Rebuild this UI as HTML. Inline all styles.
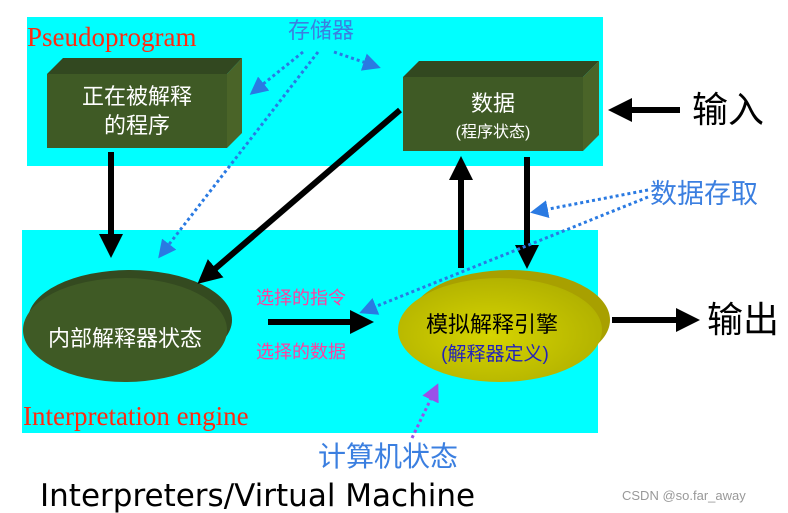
<!DOCTYPE html>
<html><head><meta charset="utf-8"><style>
body{margin:0;background:#fff}
svg{display:block}
.cj{font-family:"Liberation Sans","Noto Sans CJK SC",sans-serif}
</style></head><body>
<svg width="788" height="513" viewBox="0 0 788 513" xmlns="http://www.w3.org/2000/svg">
<defs>
<marker id="ah" markerWidth="4" markerHeight="4" refX="3" refY="2" orient="auto" markerUnits="strokeWidth"><path d="M0,0 L4,2 L0,4 z" fill="#000"/></marker>
<marker id="bh" markerWidth="6" markerHeight="6" refX="5" refY="3" orient="auto" markerUnits="strokeWidth"><path d="M0,0 L6,3 L0,6 z" fill="#2a7ae2"/></marker>
<marker id="ph" markerWidth="6" markerHeight="6" refX="5" refY="3" orient="auto" markerUnits="strokeWidth"><path d="M0,0 L6,3 L0,6 z" fill="#9a50e8"/></marker>
<radialGradient id="yg" cx="0.45" cy="0.55" r="0.6"><stop offset="0" stop-color="#d6d400"/><stop offset="1" stop-color="#b0b000"/></radialGradient>
</defs>
<rect x="27" y="17" width="576" height="149" fill="#00ffff"/>
<rect x="22" y="230" width="576" height="203" fill="#00ffff"/>
<text x="27" y="46" font-family="Liberation Serif,serif" font-size="27" fill="#ff2a10">Pseudoprogram</text>
<text x="23" y="425" font-family="Liberation Serif,serif" font-size="27" fill="#ff2a10">Interpretation engine</text>

<!-- box1 -->
<polygon points="47,74 63,58 242,58 227,74" fill="#324820"/>
<polygon points="227,74 242,58 242,133 227,148" fill="#4a6428"/>
<rect x="47" y="74" width="180" height="74" fill="#3f5a25"/>
<text x="137" y="104" text-anchor="middle" class="cj" font-size="22" fill="#fff">正在被解释</text>
<text x="137" y="133" text-anchor="middle" class="cj" font-size="22" fill="#fff">的程序</text>
<!-- box2 -->
<polygon points="403,77 419,61 599,61 583,77" fill="#324820"/>
<polygon points="583,77 599,61 599,135 583,151" fill="#4a6428"/>
<rect x="403" y="77" width="180" height="74" fill="#3f5a25"/>
<text x="493" y="111" text-anchor="middle" class="cj" font-size="22" fill="#fff">数据</text>
<text x="493" y="137" text-anchor="middle" class="cj" font-size="16" fill="#fff">(程序状态)</text>

<!-- ellipses -->
<ellipse cx="130" cy="320" rx="102" ry="50" fill="#344a20"/>
<ellipse cx="125" cy="330" rx="102" ry="52" fill="#3f5a25"/>
<text x="125" y="346" text-anchor="middle" class="cj" font-size="22" fill="#fff">内部解释器状态</text>
<ellipse cx="510" cy="320" rx="100" ry="50" fill="#a8a000"/>
<ellipse cx="500" cy="330" rx="102" ry="52" fill="url(#yg)"/>
<text x="492" y="332" text-anchor="middle" class="cj" font-size="22" fill="#000">模拟解释引擎</text>
<text x="495" y="360" text-anchor="middle" class="cj" font-size="19" fill="#2222bb">(解释器定义)</text>

<!-- black arrows -->
<g stroke="#000" stroke-width="6" fill="none">
<line x1="111" y1="152" x2="111" y2="252" marker-end="url(#ah)"/>
<line x1="400" y1="110" x2="202" y2="280" marker-end="url(#ah)"/>
<line x1="461" y1="268" x2="461" y2="162" marker-end="url(#ah)"/>
<line x1="527" y1="157" x2="527" y2="263" marker-end="url(#ah)"/>
<line x1="680" y1="110" x2="614" y2="110" marker-end="url(#ah)"/>
<line x1="268" y1="322" x2="368" y2="322" marker-end="url(#ah)"/>
<line x1="612" y1="320" x2="694" y2="320" marker-end="url(#ah)"/>
</g>

<!-- dotted -->
<g stroke="#2a7ae2" stroke-width="3" stroke-dasharray="3,3" fill="none">
<line x1="303" y1="52" x2="252" y2="93" marker-end="url(#bh)"/>
<line x1="318" y1="52" x2="160" y2="256" marker-end="url(#bh)"/>
<line x1="334" y1="52" x2="378" y2="67" marker-end="url(#bh)"/>
<line x1="648" y1="190" x2="533" y2="212" marker-end="url(#bh)"/>
<line x1="648" y1="197" x2="362" y2="312" marker-end="url(#bh)"/>
</g>
<line x1="412" y1="438" x2="437" y2="386" stroke="#9a50e8" stroke-width="3" stroke-dasharray="3,3" marker-end="url(#ph)"/>

<text x="288" y="38" class="cj" font-size="22" fill="#3b7fe0">存储器</text>
<text x="650" y="203" class="cj" font-size="27" fill="#3b7fe0">数据存取</text>
<text x="318" y="466" class="cj" font-size="28" fill="#3b7fe0">计算机状态</text>
<text x="256" y="304" class="cj" font-size="18" fill="#ff3fa0">选择的指令</text>
<text x="256" y="358" class="cj" font-size="18" fill="#ff3fa0">选择的数据</text>
<text x="692" y="122" class="cj" font-size="36" fill="#000">输入</text>
<text x="707" y="332" class="cj" font-size="36" fill="#000">输出</text>
<text x="40" y="506" font-family="DejaVu Sans,Liberation Sans,sans-serif" font-size="31" fill="#000">Interpreters/Virtual Machine</text>
<text x="622" y="500" font-family="Liberation Sans,sans-serif" font-size="13" fill="#999">CSDN @so.far_away</text>
</svg>
</body></html>
